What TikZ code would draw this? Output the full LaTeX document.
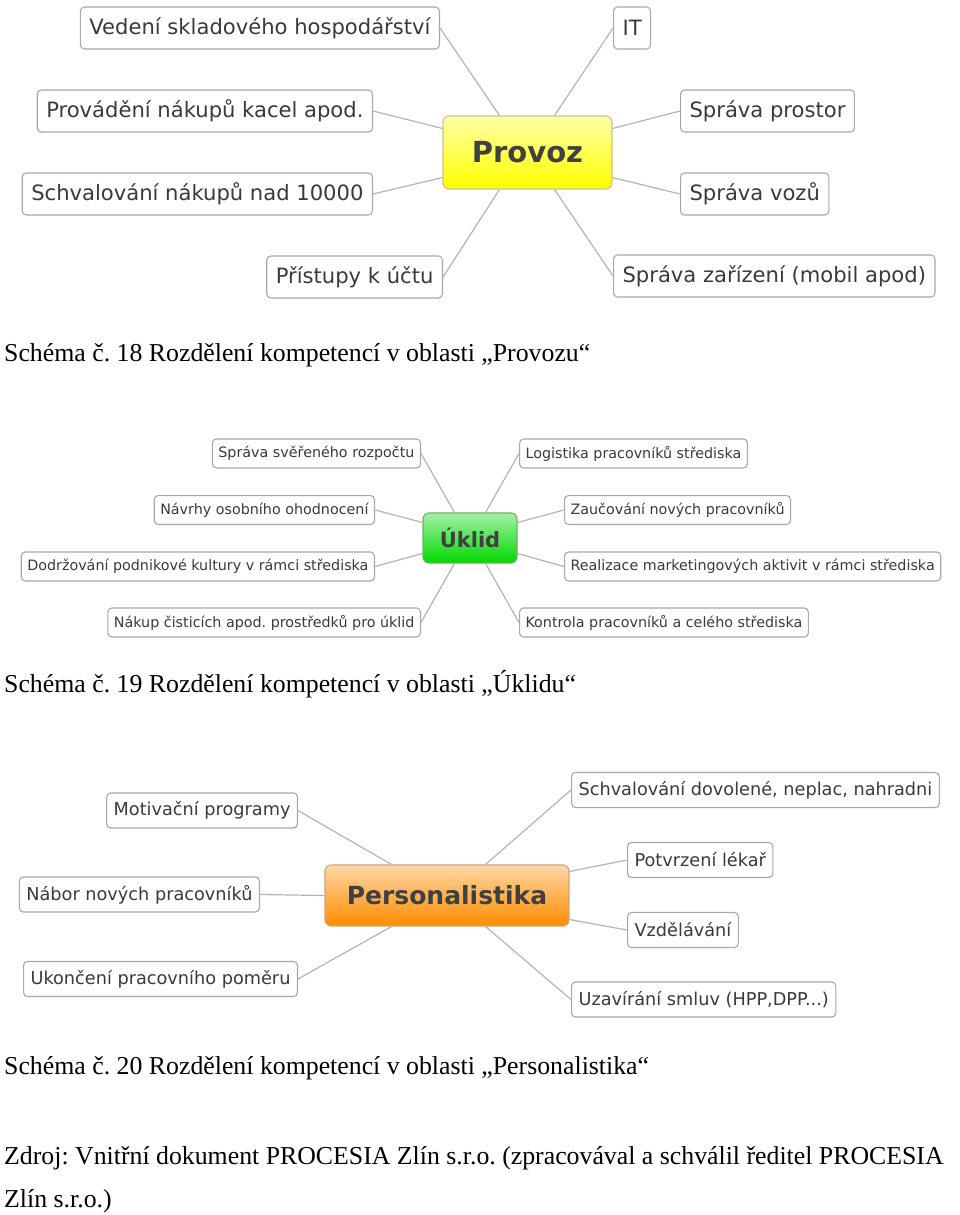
\documentclass[tikz,border=0pt]{standalone}
\usepackage{fontspec}
\setmainfont{Liberation Serif}
\newfontfamily\mapfont{DejaVu Sans}
\usetikzlibrary{positioning,calc}
\frenchspacing

\definecolor{leafline}{HTML}{A8A8A8}
\definecolor{linkgray}{HTML}{B4B4B4}
\definecolor{inktext}{HTML}{3A3A3A}
\definecolor{hubtext}{HTML}{404040}

\begin{document}
\begin{tikzpicture}[
    x=1pt, y=-1pt,
    leaf/.style={draw=leafline, line width=1.1pt, rounded corners=4pt, fill=white, text=inktext, inner ysep=0pt},
    leafbig/.style={leaf, font=\mapfont\fontsize{21.1}{24}\selectfont, minimum height=42pt, inner xsep=9pt},
    leafsmall/.style={leaf, font=\mapfont\fontsize{14.3}{17}\selectfont, minimum height=29pt, inner xsep=6pt},
    leafmid/.style={leaf, font=\mapfont\fontsize{17.7}{20}\selectfont, minimum height=35pt, inner xsep=7pt},
    hub/.style 2 args={draw=#2, line width=1.1pt, rounded corners=6pt, top color=#1!35!white, bottom color=#1, text=hubtext},
    link/.style={draw=linkgray, line width=1.2pt},
    caption/.style={anchor=base west, inner sep=0pt, font=\fontsize{25.8}{30}\selectfont}
]
\useasboundingbox[fill=white] (0,0) rectangle (960,1215);

% Provoz
\node[hub={yellow}{yellow!55!black!55}, minimum width=169pt, minimum height=73pt, font=\mapfont\bfseries\fontsize{29}{32}\selectfont] (provoz) at (527.5,152.5) {Provoz};
\node[leafbig, anchor=east] (vedeni) at (440,28) {Vedení skladového hospodářství};
\node[leafbig, anchor=east] (provadeni) at (373,111) {Provádění nákupů kacel apod.};
\node[leafbig, anchor=east] (schvalnak) at (373,194) {Schvalování nákupů nad 10000};
\node[leafbig, anchor=east] (pristupy) at (443,277) {Přístupy k účtu};
\node[leafbig, anchor=west] (it) at (613,28) {IT};
\node[leafbig, anchor=west] (prostor) at (680,111) {Správa prostor};
\node[leafbig, anchor=west] (vozy) at (680,194) {Správa vozů};
\node[leafbig, anchor=west] (zarizeni) at (613,276) {Správa zařízení (mobil apod)};

\draw[link] (vedeni.east) -- ([xshift=57pt]provoz.north west);
\draw[link] (provadeni.east) -- ([yshift=-13pt]provoz.north west);
\draw[link] (schvalnak.east) -- ([yshift=12pt]provoz.south west);
\draw[link] (pristupy.east) -- ([xshift=57pt]provoz.south west);
\draw[link] (it.west) -- ([xshift=-58pt]provoz.north east);
\draw[link] (prostor.west) -- ([yshift=-13pt]provoz.north east);
\draw[link] (vozy.west) -- ([yshift=12pt]provoz.south east);
\draw[link] (zarizeni.west) -- ([xshift=-58pt]provoz.south east);

\node[caption] (cap1) at (4,361) {Schéma č. 18 Rozdělení kompetencí v oblasti „Provozu“};

% Uklid
\node[hub={green!85!black}{green!50!black!60}, minimum width=94pt, minimum height=50pt, font=\mapfont\bfseries\fontsize{21}{24}\selectfont] (uklid) at (470,538) {Úklid};
\node[leafsmall, anchor=east] (rozpocet) at (421,453.5) {Správa svěřeného rozpočtu};
\node[leafsmall, anchor=east] (navrhy) at (375,510) {Návrhy osobního ohodnocení};
\node[leafsmall, anchor=east] (kultura) at (375,566.5) {Dodržování podnikové kultury v rámci střediska};
\node[leafsmall, anchor=east] (cistici) at (421,622.5) {Nákup čisticích apod. prostředků pro úklid};
\node[leafsmall, anchor=west] (logistika) at (519,453.5) {Logistika pracovníků střediska};
\node[leafsmall, anchor=west] (zaucovani) at (564,510) {Zaučování nových pracovníků};
\node[leafsmall, anchor=west] (marketing) at (564,566.5) {Realizace marketingových aktivit v rámci střediska};
\node[leafsmall, anchor=west] (kontrola) at (519,622.5) {Kontrola pracovníků a celého střediska};

\draw[link] (rozpocet.east) -- ([xshift=32pt]uklid.north west);
\draw[link] (navrhy.east) -- ([yshift=-10pt]uklid.north west);
\draw[link] (kultura.east) -- ([yshift=10pt]uklid.south west);
\draw[link] (cistici.east) -- ([xshift=32pt]uklid.south west);
\draw[link] (logistika.west) -- ([xshift=-32pt]uklid.north east);
\draw[link] (zaucovani.west) -- ([yshift=-10pt]uklid.north east);
\draw[link] (marketing.west) -- ([yshift=10pt]uklid.south east);
\draw[link] (kontrola.west) -- ([xshift=-32pt]uklid.south east);

\node[caption] (cap2) at (4,692) {Schéma č. 19 Rozdělení kompetencí v oblasti „Úklidu“};

% Personalistika
\node[hub={orange!90!yellow}{orange!60!black!50}, minimum width=244pt, minimum height=61pt, font=\mapfont\bfseries\fontsize{25}{28}\selectfont] (personal) at (447,895.5) {Personalistika};
\node[leafmid, anchor=east] (motivace) at (298,810.5) {Motivační programy};
\node[leafmid, anchor=east] (nabor) at (260,894.5) {Nábor nových pracovníků};
\node[leafmid, anchor=east] (ukonceni) at (298,979) {Ukončení pracovního poměru};
\node[leafmid, anchor=west] (dovolena) at (571,790) {Schvalování dovolené, neplac, nahradni};
\node[leafmid, anchor=west] (lekar) at (627,860) {Potvrzení lékař};
\node[leafmid, anchor=west] (vzdelavani) at (627,930) {Vzdělávání};
\node[leafmid, anchor=west] (smlouvy) at (571,999.5) {Uzavírání smluv (HPP,DPP...)};

\draw[link] (motivace.east) -- ([xshift=67pt]personal.north west);
\draw[link] (nabor.east) -- (personal.west);
\draw[link] (ukonceni.east) -- ([xshift=67pt]personal.south west);
\draw[link] (dovolena.west) -- ([xshift=-84pt]personal.north east);
\draw[link] (lekar.west) -- ([yshift=-7pt]personal.north east);
\draw[link] (vzdelavani.west) -- ([yshift=7pt]personal.south east);
\draw[link] (smlouvy.west) -- ([xshift=-84pt]personal.south east);

\node[caption] (cap3) at (4,1074) {Schéma č. 20 Rozdělení kompetencí v oblasti „Personalistika“};
\node[caption] (zdroj) at (4,1164) {Zdroj: Vnitřní dokument PROCESIA Zlín s.r.o. (zpracovával a schválil ředitel PROCESIA};
\node[caption] (zdroj2) at (4,1207) {Zlín s.r.o.)};
\end{tikzpicture}
\end{document}
